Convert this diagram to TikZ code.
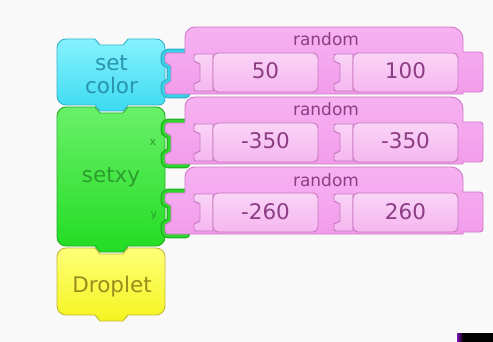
\documentclass[tikz,border=0pt]{standalone}
\usepackage{fontspec}
\setmainfont{DejaVu Sans}
\definecolor{bgc}{HTML}{F9F9F9}
\definecolor{cyantop}{HTML}{86F2FF}
\definecolor{cyanbot}{HTML}{3CDAF0}
\definecolor{cyanedge}{HTML}{34B4CA}
\definecolor{cyanring}{HTML}{36D2EA}
\definecolor{cyantext}{HTML}{2A93AD}
\definecolor{greentop}{HTML}{6AF06A}
\definecolor{greenbot}{HTML}{22DC22}
\definecolor{greenedge}{HTML}{22AE22}
\definecolor{greenring}{HTML}{2CD82C}
\definecolor{greentext}{HTML}{2B9E2B}
\definecolor{yeltop}{HTML}{FFFF78}
\definecolor{yelbot}{HTML}{F4F420}
\definecolor{yeledge}{HTML}{C4BA34}
\definecolor{yeltext}{HTML}{9C8C1C}
\definecolor{pinktop}{HTML}{F6B2F1}
\definecolor{pinkbot}{HTML}{F29CEB}
\definecolor{pinkedge}{HTML}{D078C8}
\definecolor{slottop}{HTML}{FAD4F7}
\definecolor{slotbot}{HTML}{F5B6EF}
\definecolor{slotedge}{HTML}{C777BF}
\definecolor{pinktext}{HTML}{8C3D84}
\definecolor{accent}{HTML}{7A12B4}

% plug of a reporter block, closed along its left edge
\newcommand\plugpath[2]{(186,#1) -- (168,#1) arc[start angle=270,end angle=180,radius=3]
  -- (165,#1+9) -- (171,#1+13) -- (171,#2-13) -- (165,#2-9) -- (165,#2-3)
  arc[start angle=180,end angle=90,radius=3] -- (186,#2) -- cycle}

% socket ring of the parent block around a plug
\newcommand\socketring[4]{%
  \path[draw=#3,line width=8.6pt,line join=round] \plugpath{#1}{#2};
  \path[draw=#4,line width=6pt,line join=round] \plugpath{#1}{#2};}

% pink "random" reporter, top edge at #1
\newcommand\randblock[1]{%
  \path[pinkblk] (185,#1+10) arc[start angle=180,end angle=270,radius=10]
    -- (451,#1) arc[start angle=270,end angle=360,radius=12]
    -- (463,#1+25) -- (480,#1+25) arc[start angle=270,end angle=360,radius=3]
    -- (483,#1+62) arc[start angle=0,end angle=90,radius=3]
    -- (463,#1+65) -- (463,#1+67) -- (168,#1+67)
    arc[start angle=90,end angle=180,radius=3]
    -- (165,#1+58) -- (171,#1+54) -- (171,#1+39) -- (165,#1+35) -- (165,#1+29)
    arc[start angle=180,end angle=270,radius=3] -- (185,#1+26) -- cycle;}

% number slot inside a reporter: left x #1, block top #2, value #3
\newcommand\numslot[3]{%
  \path[slotblk] (#1+19,#2+27) -- (#1+2,#2+27) arc[start angle=270,end angle=180,radius=2]
    -- (#1,#2+34) -- (#1+6,#2+37) -- (#1+6,#2+54) -- (#1,#2+57) -- (#1,#2+62)
    arc[start angle=180,end angle=90,radius=2] -- (#1+19,#2+64) -- cycle;
  \path[slotblk,rounded corners=5pt] (#1+19,#2+26) rectangle (#1+124,#2+65);
  \node[valtxt] (val-#1-#2) at (#1+71.5,#2+52) {#3};}

\begin{document}
\begin{tikzpicture}[x=1pt,y=-1pt,
  cyanblk/.style={top color=cyantop,bottom color=cyanbot,draw=cyanedge,line width=0.9pt},
  greenblk/.style={top color=greentop,bottom color=greenbot,draw=greenedge,line width=0.9pt},
  yelblk/.style={top color=yeltop,bottom color=yelbot,draw=yeledge,line width=0.9pt},
  pinkblk/.style={top color=pinktop,bottom color=pinkbot,draw=pinkedge,line width=0.9pt},
  slotblk/.style={top color=slottop,bottom color=slotbot,draw=slotedge,line width=0.9pt},
  bigtxt/.style={font=\fontsize{21.5}{24}\selectfont,anchor=base,inner sep=0pt},
  valtxt/.style={bigtxt,text=pinktext},
  randtxt/.style={font=\fontsize{17}{19}\selectfont,anchor=base,inner sep=0pt,text=pinktext},
  argtxt/.style={font=\fontsize{11}{12}\selectfont,anchor=base,inner sep=0pt,text=greentext}]

\useasboundingbox[fill=bgc] (0,0) rectangle (493,342);

% command blocks, bottom to top so each tab sits over the notch below
\path[yelblk] (57,257) arc[start angle=180,end angle=270,radius=9]
  -- (95,248) -- (100,254) -- (123,254) -- (128,248) -- (156,248)
  arc[start angle=270,end angle=360,radius=9] -- (165,306)
  arc[start angle=0,end angle=90,radius=9] -- (128,315) -- (123,321) -- (100,321) -- (95,315)
  -- (66,315) arc[start angle=90,end angle=180,radius=9] -- cycle;

\path[greenblk] (57,116) arc[start angle=180,end angle=270,radius=9]
  -- (95,107) -- (100,113) -- (123,113) -- (128,107) -- (156,107)
  arc[start angle=270,end angle=360,radius=9] -- (165,237)
  arc[start angle=0,end angle=90,radius=9] -- (128,246) -- (123,252) -- (100,252) -- (95,246)
  -- (66,246) arc[start angle=90,end angle=180,radius=9] -- cycle;

\path[cyanblk] (57,48) arc[start angle=180,end angle=270,radius=9]
  -- (95,39) -- (100,45) -- (123,45) -- (128,39) -- (156,39)
  arc[start angle=270,end angle=360,radius=9] -- (165,99)
  arc[start angle=0,end angle=90,radius=6] -- (128,105) -- (123,111) -- (100,111) -- (95,105)
  -- (66,105) arc[start angle=90,end angle=180,radius=9] -- cycle;

% sockets holding the reporters
\socketring{53}{94}{cyanedge}{cyanring}
\socketring{123}{164}{greenedge}{greenring}
\socketring{193}{234}{greenedge}{greenring}

% reporters
\randblock{27}
\randblock{97}
\randblock{167}

\numslot{194}{27}{50}
\numslot{334}{27}{100}
\numslot{194}{97}{-350}
\numslot{334}{97}{-350}
\numslot{194}{167}{-260}
\numslot{334}{167}{260}

\node[randtxt] (r1) at (326,46) {random};
\node[randtxt] (r2) at (326,116) {random};
\node[randtxt] (r3) at (326,186) {random};

% block labels
\node[bigtxt,text=cyantext] (set) at (111.5,70.5) {set};
\node[bigtxt,text=cyantext] (color) at (111.5,94) {color};
\node[bigtxt,text=greentext] (setxy) at (111,182.5) {setxy};
\node[argtxt] (argx) at (153,145.5) {x};
\node[argtxt] (argy) at (154,218) {y};
\node[bigtxt,text=yeltext] (drop) at (112,292.5) {Droplet};

% corner mark
\shade[left color=accent,right color=black] (457,333) rectangle (463,342);
\fill[black] (463,333) rectangle (493,342);
\end{tikzpicture}
\end{document}
